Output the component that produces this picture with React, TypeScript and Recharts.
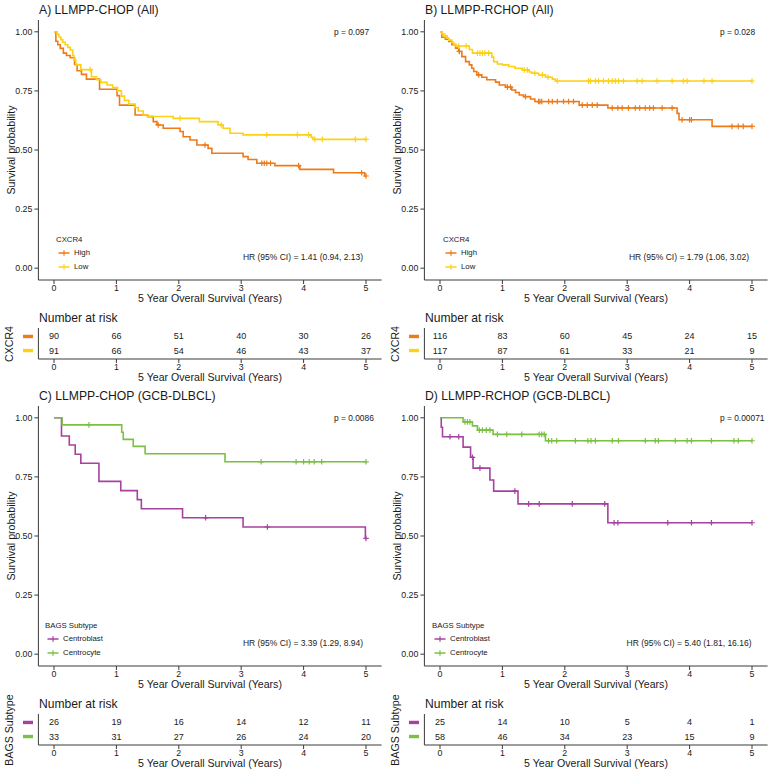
import React from 'react';
import { LineChart, Line, XAxis, YAxis, ScatterChart, Scatter } from 'recharts';

// [time, survival, censored?]
type Pt = [number, number, number?];

const years = [0, 1, 2, 3, 4, 5];
const probTicks = [0, 0.25, 0.5, 0.75, 1];

const cxcr4Groups = ['High', 'Low'];
const bagsGroups = ['Centroblast', 'Centrocyte'];

const chopAllHigh: Pt[] = [
  [0, 1], [0.03, 0.96], [0.06, 0.945], [0.1, 0.93], [0.15, 0.91], [0.2, 0.9], [0.26, 0.89],
  [0.33, 0.862], [0.37, 0.835], [0.44, 0.82], [0.52, 0.8], [0.73, 0.757], [1.01, 0.73],
  [1.05, 0.69], [1.3, 0.648], [1.5, 0.641], [1.59, 0.62], [1.65, 0.606], [1.67, 0.606, 1],
  [1.75, 0.592], [2.02, 0.578], [2.07, 0.556], [2.18, 0.542], [2.29, 0.521], [2.42, 0.521, 1],
  [2.47, 0.507], [2.53, 0.486], [3.03, 0.472], [3.11, 0.46], [3.25, 0.444], [3.33, 0.444, 1],
  [3.37, 0.444, 1], [3.41, 0.444, 1], [3.47, 0.444, 1], [3.54, 0.434], [3.92, 0.434, 1],
  [3.94, 0.418], [4.48, 0.404], [4.93, 0.404, 1], [4.98, 0.39], [5, 0.39, 1],
];
const chopAllLow: Pt[] = [
  [0, 1], [0.05, 0.989], [0.08, 0.978], [0.11, 0.967], [0.14, 0.956], [0.18, 0.945],
  [0.22, 0.934], [0.26, 0.923], [0.3, 0.9], [0.32, 0.88], [0.35, 0.86], [0.43, 0.84],
  [0.58, 0.84, 1], [0.6, 0.81], [0.68, 0.797], [0.75, 0.786], [0.85, 0.775], [0.94, 0.764],
  [1.02, 0.75], [1.08, 0.728], [1.13, 0.71], [1.2, 0.694], [1.3, 0.68], [1.35, 0.665],
  [1.43, 0.648], [1.5, 0.642], [1.91, 0.634], [2.02, 0.634, 1], [2.33, 0.62], [2.63, 0.606],
  [2.68, 0.606, 1], [2.71, 0.592], [2.82, 0.571], [3.03, 0.564], [3.41, 0.564, 1],
  [3.9, 0.564, 1], [4.08, 0.564, 1], [4.12, 0.554], [4.15, 0.545], [4.18, 0.545, 1],
  [4.3, 0.545, 1], [4.83, 0.545, 1], [5, 0.545, 1],
];

const rchopAllHigh: Pt[] = [
  [0, 1], [0.03, 0.977], [0.085, 0.969], [0.14, 0.959], [0.19, 0.945], [0.25, 0.931],
  [0.3, 0.917], [0.31, 0.917, 1], [0.35, 0.895], [0.41, 0.874], [0.47, 0.86], [0.51, 0.846],
  [0.54, 0.832], [0.59, 0.818], [0.62, 0.818, 1], [0.67, 0.808], [0.75, 0.797], [0.89, 0.787],
  [0.95, 0.775], [1.05, 0.766], [1.08, 0.766, 1], [1.13, 0.766, 1], [1.15, 0.754],
  [1.21, 0.743], [1.27, 0.733], [1.34, 0.726], [1.37, 0.726, 1], [1.45, 0.716], [1.52, 0.705],
  [1.58, 0.705, 1], [1.6, 0.705, 1], [1.63, 0.705, 1], [1.74, 0.705, 1], [1.8, 0.705, 1],
  [1.88, 0.705, 1], [1.98, 0.705, 1], [2.06, 0.705, 1], [2.14, 0.705, 1], [2.23, 0.69],
  [2.28, 0.69, 1], [2.36, 0.69, 1], [2.44, 0.69, 1], [2.52, 0.69, 1], [2.69, 0.678],
  [2.76, 0.678, 1], [2.85, 0.678, 1], [2.92, 0.678, 1], [3.02, 0.678, 1], [3.13, 0.678, 1],
  [3.2, 0.678, 1], [3.29, 0.678, 1], [3.36, 0.678, 1], [3.42, 0.678, 1], [3.56, 0.678, 1],
  [3.72, 0.678, 1], [3.8, 0.655], [3.83, 0.628], [3.88, 0.628, 1], [4.0, 0.628, 1],
  [4.03, 0.628, 1], [4.36, 0.6], [4.68, 0.6, 1], [4.78, 0.6, 1], [4.86, 0.6, 1], [5, 0.6, 1],
];
const rchopAllLow: Pt[] = [
  [0, 1], [0.03, 0.991], [0.06, 0.983], [0.08, 0.983, 1], [0.11, 0.974], [0.14, 0.965],
  [0.19, 0.956], [0.22, 0.947], [0.25, 0.94], [0.3, 0.94, 1], [0.42, 0.94, 1], [0.47, 0.925],
  [0.52, 0.91], [0.6, 0.91, 1], [0.64, 0.91, 1], [0.68, 0.91, 1], [0.72, 0.91, 1],
  [0.78, 0.91, 1], [0.83, 0.893], [0.86, 0.874], [0.92, 0.864], [1.0, 0.86], [1.1, 0.853],
  [1.2, 0.846], [1.32, 0.839], [1.35, 0.839, 1], [1.4, 0.839, 1], [1.43, 0.83], [1.47, 0.825],
  [1.52, 0.825, 1], [1.58, 0.818], [1.64, 0.818, 1], [1.69, 0.808], [1.73, 0.808, 1],
  [1.8, 0.8], [1.85, 0.792], [1.88, 0.792, 1], [2.38, 0.792, 1], [2.41, 0.792, 1],
  [2.49, 0.792, 1], [2.54, 0.792, 1], [2.62, 0.792, 1], [2.7, 0.792, 1], [2.76, 0.792, 1],
  [2.81, 0.792, 1], [2.86, 0.792, 1], [2.94, 0.792, 1], [3.16, 0.792, 1], [3.24, 0.792, 1],
  [3.48, 0.792, 1], [3.72, 0.792, 1], [3.9, 0.792, 1], [3.96, 0.792, 1], [4.23, 0.792, 1],
  [4.36, 0.792, 1], [5, 0.792, 1],
];

const chopGcbCb: Pt[] = [
  [0, 1], [0.12, 0.923], [0.245, 0.885], [0.34, 0.846], [0.43, 0.808], [0.72, 0.731],
  [1.07, 0.692], [1.335, 0.654], [1.4, 0.615], [2.06, 0.577], [2.43, 0.577, 1], [3.03, 0.538],
  [3.42, 0.538, 1], [4.99, 0.49], [5, 0.49, 1],
];
const chopGcbCc: Pt[] = [
  [0, 1], [0.13, 0.97], [0.56, 0.97, 1], [1.085, 0.939], [1.11, 0.909], [1.27, 0.879],
  [1.46, 0.848], [2.74, 0.814], [3.32, 0.814, 1], [3.88, 0.814, 1], [4.0, 0.814, 1],
  [4.09, 0.814, 1], [4.17, 0.814, 1], [4.29, 0.814, 1], [5, 0.814, 1],
];

const rchopGcbCb: Pt[] = [
  [0, 1], [0.02, 0.96], [0.04, 0.92], [0.16, 0.92, 1], [0.3, 0.92, 1], [0.37, 0.876],
  [0.49, 0.833], [0.52, 0.833, 1], [0.53, 0.787], [0.64, 0.787, 1], [0.8, 0.737], [0.86, 0.69],
  [1.2, 0.69, 1], [1.25, 0.636], [1.42, 0.636, 1], [1.59, 0.636, 1], [2.12, 0.636, 1],
  [2.64, 0.636, 1], [2.69, 0.556], [2.79, 0.556, 1], [2.85, 0.556, 1], [3.65, 0.556, 1],
  [4.03, 0.556, 1], [4.35, 0.556, 1], [5, 0.556, 1],
];
const rchopGcbCc: Pt[] = [
  [0, 1], [0.37, 0.983], [0.4, 0.983, 1], [0.44, 0.983, 1], [0.48, 0.983, 1], [0.52, 0.966],
  [0.6, 0.948], [0.63, 0.948, 1], [0.68, 0.948, 1], [0.74, 0.948, 1], [0.8, 0.948, 1],
  [0.85, 0.93], [0.92, 0.93, 1], [1.07, 0.93, 1], [1.31, 0.93, 1], [1.59, 0.93, 1],
  [1.63, 0.93, 1], [1.67, 0.93, 1], [1.69, 0.903], [1.74, 0.903, 1], [1.79, 0.903, 1],
  [1.87, 0.903, 1], [2.17, 0.903, 1], [2.37, 0.903, 1], [2.42, 0.903, 1], [2.49, 0.903, 1],
  [2.76, 0.903, 1], [2.86, 0.903, 1], [3.29, 0.903, 1], [3.45, 0.903, 1], [3.5, 0.903, 1],
  [3.77, 0.903, 1], [3.96, 0.903, 1], [4.03, 0.903, 1], [4.35, 0.903, 1], [4.71, 0.903, 1],
  [4.78, 0.903, 1], [5, 0.903, 1],
];

// number at risk at years 0..5
const chopAllRiskHigh = [90, 66, 51, 40, 30, 26];
const chopAllRiskLow = [91, 66, 54, 46, 43, 37];
const rchopAllRiskHigh = [116, 83, 60, 45, 24, 15];
const rchopAllRiskLow = [117, 87, 61, 33, 21, 9];
const chopGcbRiskCb = [26, 19, 16, 14, 12, 11];
const chopGcbRiskCc = [33, 31, 27, 26, 24, 20];
const rchopGcbRiskCb = [25, 14, 10, 5, 4, 1];
const rchopGcbRiskCc = [58, 46, 34, 23, 15, 9];

const ORANGE = '#EE7A18';
const YELLOW = '#FCD116';
const PURPLE = '#A6419F';
const GREEN = '#7BC043';

const FONT = '"Liberation Sans", Arial, Helvetica, sans-serif';
const INK = '#1a1a1a';
const AXIS = '#3a3a3a';
const W = 386;
const PLOT_L = 38.4;
const PLOT_R = 4.4;

interface Group {
  name: string;
  color: string;
  curve: Pt[];
  risk: number[];
}

function toRows(pts: Pt[]) {
  return pts.map(([t, s, c]) => ({ t, s, c: c === 1 }));
}

function censorDot(color: string) {
  return (props: any) => {
    const { cx, cy, payload, index } = props;
    if (!payload || !payload.c || cx == null) return <g key={`n${index}`} />;
    return (
      <path
        key={`c${index}`}
        d={`M${cx - 2.8},${cy}H${cx + 2.8}M${cx},${cy - 2.8}V${cy + 2.8}`}
        stroke={color}
        strokeWidth={1.2}
        fill="none"
      />
    );
  };
}

function Txt({ x, y, size, anchor = 'start', children }: any) {
  const tx = anchor === 'middle' ? '-50%' : anchor === 'end' ? '-100%' : '0';
  return (
    <div
      style={{
        position: 'absolute',
        left: x,
        top: y,
        fontSize: size,
        lineHeight: 1,
        color: INK,
        whiteSpace: 'nowrap',
        transform: `translate(${tx}, -50%)`,
      }}
    >
      {children}
    </div>
  );
}

function VTxt({ x, y, size, children }: any) {
  return (
    <div
      style={{
        position: 'absolute',
        left: x,
        top: y,
        fontSize: size,
        lineHeight: 1,
        color: INK,
        whiteSpace: 'nowrap',
        transform: 'translate(-50%, -50%) rotate(-90deg)',
      }}
    >
      {children}
    </div>
  );
}

function LegendKey({ color }: { color: string }) {
  return (
    <svg width={12} height={8} style={{ position: 'absolute', left: 0, top: -4 }}>
      <line x1={0.5} x2={11.5} y1={4} y2={4} stroke={color} strokeWidth={1.5} />
      <line x1={6} x2={6} y1={1.2} y2={6.8} stroke={color} strokeWidth={1.2} />
    </svg>
  );
}

interface PanelProps {
  left: number;
  top: number;
  title: string;
  groups: Group[];
  legendTitle: string;
  legendLeft: number;
  pval: string;
  hr: string;
}

function Panel({ left, top, title, groups, legendTitle, legendLeft, pval, hr }: PanelProps) {
  const xLabel = '5 Year Overall Survival (Years)';
  const renderSwatch = (props: any) => {
    const { y, payload, index } = props;
    const g = payload.value === 2 ? groups[0] : groups[1];
    return <rect key={`sw${index}`} x={23} y={y - 1.7} width={10} height={3.4} fill={g.color} />;
  };
  const renderCount = (props: any) => (
    <text
      x={props.cx}
      y={props.cy}
      textAnchor="middle"
      dominantBaseline="central"
      fontSize={9}
      fill={INK}
    >
      {props.payload.n}
    </text>
  );

  return (
    <div style={{ position: 'absolute', left, top, width: W, height: W }}>
      <Txt x={39} y={10} size={12.2}>{title}</Txt>

      <div style={{ position: 'absolute', left: 0, top: 0 }}>
        <LineChart width={W} height={300} margin={{ top: 20, right: PLOT_R, left: 0, bottom: 0 }}>
          <XAxis
            type="number"
            dataKey="t"
            domain={[-0.25, 5.25]}
            ticks={years}
            interval={0}
            height={20}
            tickSize={4}
            tickMargin={1}
            stroke={AXIS}
            tick={{ fill: INK, fontSize: 8.8 }}
            allowDataOverflow
          />
          <YAxis
            type="number"
            domain={[-0.05, 1.05]}
            ticks={probTicks}
            interval={0}
            width={PLOT_L}
            tickSize={4}
            tickMargin={2}
            stroke={AXIS}
            tick={{ fill: INK, fontSize: 8.8 }}
            tickFormatter={(v: number) => v.toFixed(2)}
            allowDataOverflow
          />
          {groups.map((g) => (
            <Line
              key={g.name}
              data={toRows(g.curve)}
              dataKey="s"
              type="stepAfter"
              stroke={g.color}
              strokeWidth={1.6}
              dot={censorDot(g.color)}
              activeDot={false}
              isAnimationActive={false}
            />
          ))}
        </LineChart>
      </div>

      <VTxt x={11} y={150} size={10.6}>Survival probability</VTxt>
      <Txt x={210} y={298} size={10.6} anchor="middle">{xLabel}</Txt>
      <Txt x={334} y={32} size={8.4}>{pval}</Txt>
      <Txt x={303} y={257} size={8.5} anchor="middle">{hr}</Txt>

      <Txt x={legendLeft} y={239.5} size={7.8}>{legendTitle}</Txt>
      {groups.map((g, i) => (
        <div key={g.name} style={{ position: 'absolute', left: legendLeft + 1.5, top: 253 + i * 14 }}>
          <LegendKey color={g.color} />
          <Txt x={16.5} y={0} size={7.8}>{g.name}</Txt>
        </div>
      ))}

      <Txt x={39} y={318} size={12.1}>Number at risk</Txt>
      <div style={{ position: 'absolute', left: 0, top: 328 }}>
        <ScatterChart width={W} height={51} margin={{ top: 0, right: PLOT_R, left: 0, bottom: 0 }}>
          <XAxis
            type="number"
            dataKey="t"
            domain={[-0.25, 5.25]}
            ticks={years}
            interval={0}
            height={20}
            tickSize={4}
            tickMargin={1}
            stroke={AXIS}
            tick={{ fill: INK, fontSize: 8.8 }}
            allowDataOverflow
          />
          <YAxis
            type="number"
            dataKey="row"
            domain={[0.4, 2.6]}
            ticks={[1, 2]}
            interval={0}
            width={PLOT_L}
            tickLine={false}
            stroke={AXIS}
            tick={renderSwatch}
            allowDataOverflow
          />
          {groups.map((g, i) => (
            <Scatter
              key={g.name}
              data={g.risk.map((n, k) => ({ t: years[k], row: 2 - i, n }))}
              shape={renderCount}
              isAnimationActive={false}
            />
          ))}
        </ScatterChart>
      </div>
      <VTxt x={9} y={344} size={10.6}>{legendTitle}</VTxt>
      <Txt x={210} y={377} size={10.6} anchor="middle">{xLabel}</Txt>
    </div>
  );
}

export default function App() {
  const groupsOf = (names: string[], colors: string[], curves: Pt[][], risks: number[][]): Group[] =>
    names.map((name, i) => ({ name, color: colors[i], curve: curves[i], risk: risks[i] }));

  return (
    <div
      style={{
        position: 'absolute',
        left: 0,
        top: 0,
        width: 773,
        height: 773,
        background: '#fff',
        fontFamily: FONT,
        overflow: 'hidden',
      }}
    >
      <Panel
        left={0}
        top={0}
        title="A) LLMPP-CHOP (All)"
        groups={groupsOf(cxcr4Groups, [ORANGE, YELLOW], [chopAllHigh, chopAllLow], [chopAllRiskHigh, chopAllRiskLow])}
        legendTitle="CXCR4"
        legendLeft={56}
        pval="p = 0.097"
        hr="HR (95% CI) = 1.41 (0.94, 2.13)"
      />
      <Panel
        left={386}
        top={0}
        title="B) LLMPP-RCHOP (All)"
        groups={groupsOf(cxcr4Groups, [ORANGE, YELLOW], [rchopAllHigh, rchopAllLow], [rchopAllRiskHigh, rchopAllRiskLow])}
        legendTitle="CXCR4"
        legendLeft={57}
        pval="p = 0.028"
        hr="HR (95% CI) = 1.79 (1.06, 3.02)"
      />
      <Panel
        left={0}
        top={386}
        title="C) LLMPP-CHOP (GCB-DLBCL)"
        groups={groupsOf(bagsGroups, [PURPLE, GREEN], [chopGcbCb, chopGcbCc], [chopGcbRiskCb, chopGcbRiskCc])}
        legendTitle="BAGS Subtype"
        legendLeft={45}
        pval="p = 0.0086"
        hr="HR (95% CI) = 3.39 (1.29, 8.94)"
      />
      <Panel
        left={386}
        top={386}
        title="D) LLMPP-RCHOP (GCB-DLBCL)"
        groups={groupsOf(bagsGroups, [PURPLE, GREEN], [rchopGcbCb, rchopGcbCc], [rchopGcbRiskCb, rchopGcbRiskCc])}
        legendTitle="BAGS Subtype"
        legendLeft={46}
        pval="p = 0.00071"
        hr="HR (95% CI) = 5.40 (1.81, 16.16)"
      />
    </div>
  );
}
